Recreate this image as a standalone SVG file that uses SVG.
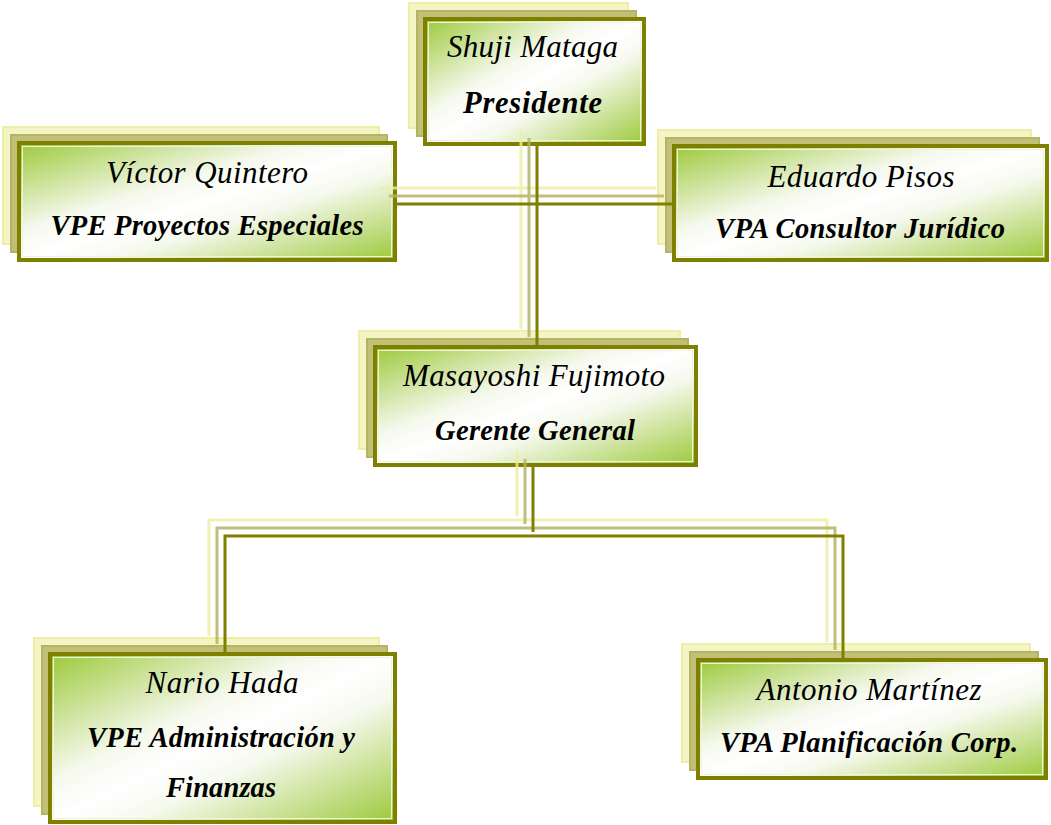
<svg xmlns="http://www.w3.org/2000/svg" width="1051" height="825" viewBox="0 0 1051 825">
<defs>
<linearGradient id="g" x1="0" y1="0" x2="1" y2="1">
<stop offset="0" stop-color="#9cc93a"/>
<stop offset="0.38" stop-color="#f6f9ee"/>
<stop offset="0.5" stop-color="#ffffff"/>
<stop offset="0.62" stop-color="#f6f9ee"/>
<stop offset="1" stop-color="#9cc93a"/>
</linearGradient>
<style>
.s2{fill:#f4f4c4;stroke:#eeeea6;stroke-width:2}
.s1{fill:#c0c076;stroke:#b4b464;stroke-width:2}
.m{fill:url(#g);stroke:#808000;stroke-width:4}
.in{fill:none;stroke:#eef4dc;stroke-width:1}
.cy{fill:none;stroke:#eeeea0;stroke-width:3;opacity:0.8}
.ck{fill:none;stroke:#b4b466;stroke-width:3;opacity:0.85}
.cm{fill:none;stroke:#808000;stroke-width:3}
.n{font-family:"Liberation Serif","Times New Roman",serif;font-style:italic;font-size:31px;fill:#000;text-anchor:middle}
.t{font-family:"Liberation Serif","Times New Roman",serif;font-style:italic;font-weight:bold;font-size:28.5px;fill:#000;text-anchor:middle}
</style>
</defs>
<rect width="1051" height="825" fill="#fff"/>

<g id="presidente">
<rect class="s2" x="409" y="3" width="219" height="125"/>
<rect class="s1" x="417" y="11" width="219" height="125"/>
<rect class="m" x="425" y="19" width="219" height="125"/>
<rect class="in" x="428.5" y="22.5" width="212" height="118"/>
<text class="n" x="532.5" y="57" textLength="171" lengthAdjust="spacing">Shuji Mataga</text>
<text class="t" x="532.5" y="113" textLength="139" lengthAdjust="spacing" style="font-size:30.5px">Presidente</text>
</g>

<g id="victor">
<rect class="s2" x="3" y="127" width="376" height="117"/>
<rect class="s1" x="11" y="135" width="376" height="117"/>
<rect class="m" x="19" y="143" width="376" height="117"/>
<rect class="in" x="22.5" y="146.5" width="369" height="110"/>
<text class="n" x="207" y="183" textLength="202" lengthAdjust="spacing">Víctor Quintero</text>
<text class="t" x="207" y="235" textLength="313" lengthAdjust="spacing">VPE Proyectos Especiales</text>
</g>

<g id="eduardo">
<rect class="s2" x="658" y="130" width="373" height="114"/>
<rect class="s1" x="666" y="138" width="373" height="114"/>
<rect class="m" x="674" y="146" width="373" height="114"/>
<rect class="in" x="677.5" y="149.5" width="366" height="107"/>
<text class="n" x="861" y="187" textLength="187" lengthAdjust="spacing">Eduardo Pisos</text>
<text class="t" x="860" y="238" textLength="290" lengthAdjust="spacing">VPA Consultor Jurídico</text>
</g>

<g id="gerente">
<rect class="s2" x="359" y="331" width="321" height="118"/>
<rect class="s1" x="367" y="339" width="321" height="118"/>
<rect class="m" x="375" y="347" width="321" height="118"/>
<rect class="in" x="378.5" y="350.5" width="314" height="111"/>
<text class="n" x="534" y="386" textLength="262" lengthAdjust="spacing">Masayoshi Fujimoto</text>
<text class="t" x="535" y="440" textLength="200" lengthAdjust="spacing">Gerente General</text>
</g>

<g id="nario">
<rect class="s2" x="34" y="638" width="345" height="168"/>
<rect class="s1" x="42" y="646" width="345" height="168"/>
<rect class="m" x="50" y="654" width="345" height="168"/>
<rect class="in" x="53.5" y="657.5" width="338" height="161"/>
<text class="n" x="222" y="693" textLength="153" lengthAdjust="spacing">Nario Hada</text>
<text class="t" x="221" y="747" textLength="268" lengthAdjust="spacing">VPE Administración y</text>
<text class="t" x="221" y="797" textLength="110" lengthAdjust="spacing">Finanzas</text>
</g>

<g id="antonio">
<rect class="s2" x="682" y="644" width="348" height="118"/>
<rect class="s1" x="690" y="652" width="348" height="118"/>
<rect class="m" x="698" y="660" width="348" height="118"/>
<rect class="in" x="701.5" y="663.5" width="341" height="111"/>
<text class="n" x="869" y="700" textLength="225" lengthAdjust="spacing">Antonio Martínez</text>
<text class="t" x="869" y="752" textLength="298" lengthAdjust="spacing">VPA Planificación Corp.</text>
</g>

<g id="connectors">
<path class="cy" d="M521,130 V329 M381,188 H656 M517,451 V516 M209,636 V520 H827 V642"/>
<path class="ck" d="M529,138 V337 M389,196 H664 M525,459 V524 M217,644 V528 H835 V650"/>
<path class="cm" d="M537,146 V345 M397,204 H672 M533,467 V532 M225,652 V536 H843 V658"/>
</g>
</svg>
